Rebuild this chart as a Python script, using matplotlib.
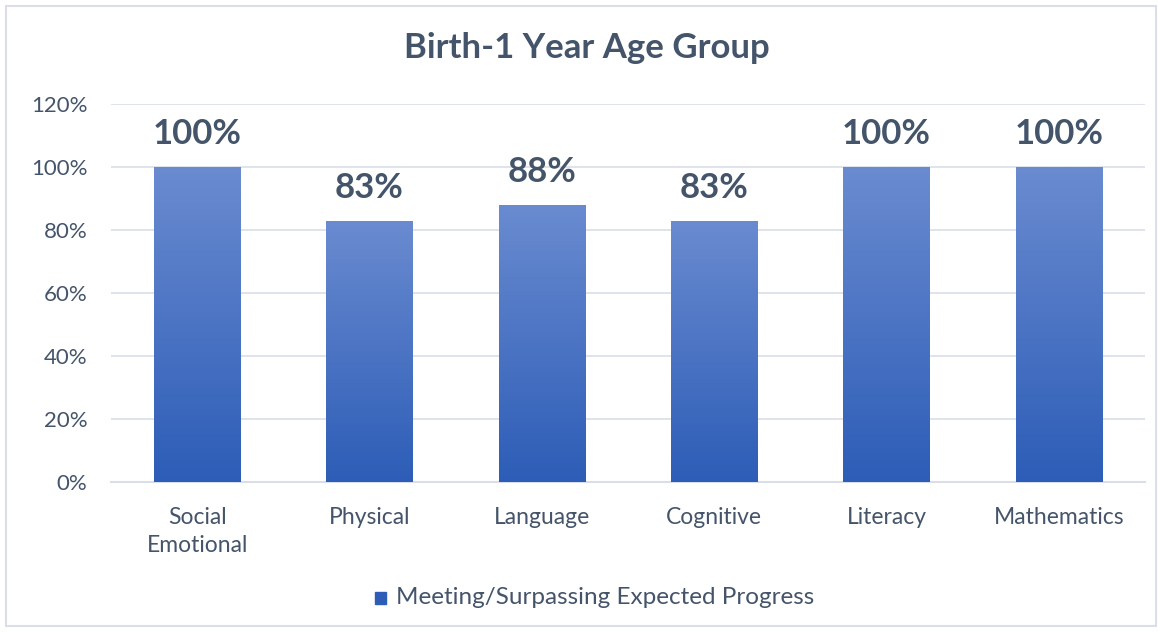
import numpy as np
import matplotlib.pyplot as plt
from matplotlib.patches import Rectangle
from matplotlib.colors import LinearSegmentedColormap
from matplotlib.ticker import FuncFormatter

# data
categories = ["Social\nEmotional", "Physical", "Language", "Cognitive", "Literacy", "Mathematics"]
values = [100, 83, 88, 83, 100, 100]
series_name = "Meeting/Surpassing Expected Progress"
title = "Birth-1 Year Age Group"

text_col = "#44546A"
grid_col = "#D9DEE8"
top_blue = "#6A8BD0"
bottom_blue = "#2D5DB7"

plt.rcParams['font.family'] = ['Lato', 'DejaVu Sans']

fig = plt.figure(figsize=(11.58, 6.32), dpi=100)
ax = fig.add_axes([111/1158, 1 - 482/632, (1145 - 111)/1158, (482 - 104)/632])

x = np.arange(len(categories))
bars = ax.bar(x, values, width=0.5, color=bottom_blue, zorder=2)

# vertical gradient inside each bar
cmap = LinearSegmentedColormap.from_list("grad", [bottom_blue, top_blue])
grad = np.linspace(0, 1, 256).reshape(-1, 1)
for b in bars:
    x0, w, h = b.get_x(), b.get_width(), b.get_height()
    im = ax.imshow(grad, cmap=cmap, extent=(x0, x0 + w, 0, h), origin='lower',
                   aspect='auto', zorder=3, vmin=0, vmax=1)
    im.set_clip_path(b)

ax.set_xlim(-0.5, len(categories) - 0.5)
ax.set_ylim(0, 120)
ax.set_yticks(range(0, 121, 20))
ax.yaxis.set_major_formatter(FuncFormatter(lambda v, p: f"{int(v)}%"))
ax.grid(axis='y', color=grid_col, lw=1.2, zorder=0)
ax.set_axisbelow(True)
for s in ['top', 'right', 'left']:
    ax.spines[s].set_visible(False)
ax.spines['bottom'].set_color(grid_col)
ax.spines['bottom'].set_linewidth(1.5)
ax.tick_params(axis='both', length=0, labelcolor=text_col)
ax.tick_params(axis='y', pad=17, labelsize=16)
ax.tick_params(axis='x', pad=18, labelsize=16.5)
ax.set_xticks(x)
ax.set_xticklabels(categories, linespacing=1.4)

for xi, v in zip(x, values):
    ax.annotate(f"{v}%", (xi, v), xytext=(0, 12), textcoords='offset points',
                ha='center', va='bottom', fontsize=25, fontweight='bold', color=text_col)

fig.text(587/1158, 1 - 48/632, title, ha='center', va='center', fontsize=25,
         fontweight='bold', color=text_col)

# legend
fig.patches.append(Rectangle((375/1158, 1 - 604/632), 11/1158, 12/632,
                             transform=fig.transFigure, color=bottom_blue))
fig.text(396/1158, 1 - 598/632, series_name, ha='left', va='center',
         fontsize=17.5, color=text_col)

# chart border
fig.patches.append(Rectangle((6/1158, 6/632), 1150/1158, 620/632, transform=fig.transFigure,
                             fill=False, edgecolor="#D9DEE8", lw=1.5))

fig.savefig("out.png", dpi=100)
